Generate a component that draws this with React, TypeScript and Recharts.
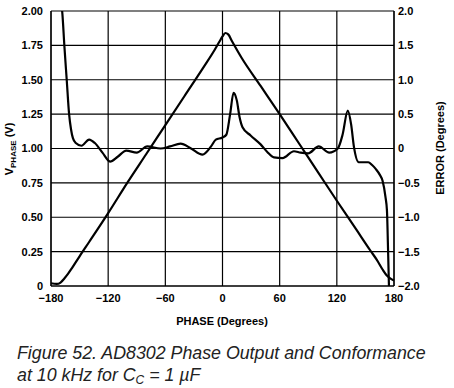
import { LineChart, Line, XAxis, YAxis, CartesianGrid } from "recharts";

// phase output (left axis, volts)
const vPhaseDeg = [-180, -174, -170, -166, -162, -158, -150, -140, -120, -100, -80, -60, -40, -20, -8, -3, 0, 3, 6, 10, 20, 40, 60, 80, 100, 120, 140, 155, 162, 168, 172, 176, 180];
const vPhaseVolts = [0.02, 0.015, 0.025, 0.055, 0.09, 0.13, 0.216, 0.32, 0.53, 0.75, 0.96, 1.17, 1.38, 1.59, 1.72, 1.78, 1.815, 1.84, 1.83, 1.78, 1.66, 1.455, 1.25, 1.04, 0.83, 0.62, 0.415, 0.26, 0.19, 0.12, 0.08, 0.055, 0.04];

// conformance error (right axis, degrees)
const errPhaseDeg = [-169, -168, -166, -163.5, -161, -159, -157, -154, -148, -140, -134, -126, -118, -110, -101, -90, -79, -65, -55, -44, -33, -21, -12, -7, 0, 4, 8, 11.6, 15, 18, 21, 29.5, 40, 47, 54, 63, 75, 82, 90, 101, 112, 121, 126, 131.5, 135, 138, 143, 148, 153, 157, 161, 165, 168, 171, 172.6, 173.7, 174.7, 175.2];
const errDegrees = [2.1, 1.95, 1.5, 1.0, 0.5, 0.28, 0.15, 0.08, 0.04, 0.13, 0.08, -0.06, -0.19, -0.12, -0.03, -0.06, 0.03, 0.0, 0.03, 0.07, 0.0, -0.09, 0.03, 0.13, 0.16, 0.2, 0.5, 0.81, 0.7, 0.45, 0.31, 0.19, 0.06, -0.05, -0.13, -0.14, -0.04, -0.06, -0.07, 0.03, -0.06, 0, 0.2, 0.55, 0.35, 0.02, -0.2, -0.2, -0.2, -0.24, -0.3, -0.38, -0.47, -0.7, -0.9, -1.44, -2.0, -2.3];

const xTicks = [-180, -120, -60, 0, 60, 120, 180];
const leftTicks = [0, 0.25, 0.5, 0.75, 1.0, 1.25, 1.5, 1.75, 2.0];
const rightTicks = [-2.0, -1.5, -1.0, -0.5, 0, 0.5, 1.0, 1.5, 2.0];

const vData = vPhaseDeg.map((x, i) => ({ x, v: vPhaseVolts[i] }));
const errData = errPhaseDeg.map((x, i) => ({ x, e: errDegrees[i] }));

const FONT = "'Liberation Sans', Arial, sans-serif";
const tick = { fontSize: 11, fontWeight: 700, fill: "#000", fontFamily: FONT };

function minus(n: number, digits: number) {
  const s = Math.abs(n).toFixed(digits);
  if (n === 0) return "0";
  return n < 0 ? "\u2212" + s : s;
}

export default function App() {
  return (
    <div style={{ position: "absolute", left: 0, top: 0, width: 454, height: 388, background: "#fff" }}>
      <LineChart width={454} height={330} data={vData} margin={{ top: 11, right: 10, bottom: 14, left: 6 }}>
        <CartesianGrid stroke="#000" strokeWidth={1.2} yAxisId="left" />
        <XAxis
          dataKey="x"
          type="number"
          domain={[-180, 180]}
          ticks={xTicks}
          tickFormatter={(v) => minus(v, 0)}
          tick={tick}
          tickLine={false}
          tickSize={0}
          tickMargin={8}
          axisLine={{ stroke: "#000", strokeWidth: 1.2 }}
          height={30}
        />
        <YAxis
          yAxisId="left"
          domain={[0, 2]}
          ticks={leftTicks}
          tickFormatter={(v) => (v === 0 ? "0" : v.toFixed(2))}
          tick={tick}
          tickLine={false}
          tickSize={0}
          tickMargin={8}
          axisLine={{ stroke: "#000", strokeWidth: 1.2 }}
          width={45}
        />
        <YAxis
          yAxisId="right"
          orientation="right"
          domain={[-2, 2]}
          allowDataOverflow
          ticks={rightTicks}
          tickFormatter={(v) => minus(v, 1)}
          tick={tick}
          tickLine={false}
          tickSize={0}
          tickMargin={4}
          axisLine={{ stroke: "#000", strokeWidth: 1.2 }}
          width={50}
        />
        <Line
          yAxisId="left"
          data={vData}
          dataKey="v"
          type="monotone"
          stroke="#000"
          strokeWidth={2.2}
          dot={false}
          isAnimationActive={false}
        />
        <Line
          yAxisId="right"
          data={errData}
          dataKey="e"
          type="monotone"
          stroke="#000"
          strokeWidth={2.2}
          dot={false}
          isAnimationActive={false}
        />
      </LineChart>
      <svg width={454} height={330} style={{ position: "absolute", left: 0, top: 0, pointerEvents: "none" }}>
        <text x={222} y={325} textAnchor="middle" fontFamily={FONT} fontSize={11} fontWeight={700} fill="#000">
          PHASE (Degrees)
        </text>
        <text transform="translate(13,149) rotate(-90)" textAnchor="middle" fontFamily={FONT} fontSize={11} fontWeight={700} fill="#000">
          V<tspan fontSize={8} dy={3}>PHASE</tspan>
          <tspan dy={-3}> (V)</tspan>
        </text>
        <text transform="translate(444,148) rotate(-90)" textAnchor="middle" fontFamily={FONT} fontSize={11} fontWeight={700} fill="#000">
          ERROR (Degrees)
        </text>
      </svg>
      <div
        style={{
          position: "absolute",
          left: 17,
          top: 342,
          fontFamily: FONT,
          fontStyle: "italic",
          fontSize: 17.8,
          lineHeight: "22px",
          color: "#222",
          whiteSpace: "nowrap",
        }}
      >
        Figure 52. AD8302 Phase Output and Conformance
        <br />
        at 10 kHz for C
        <span style={{ fontSize: 12, position: "relative", top: 3 }}>C</span> = 1 {"\u00b5"}F
      </div>
    </div>
  );
}
